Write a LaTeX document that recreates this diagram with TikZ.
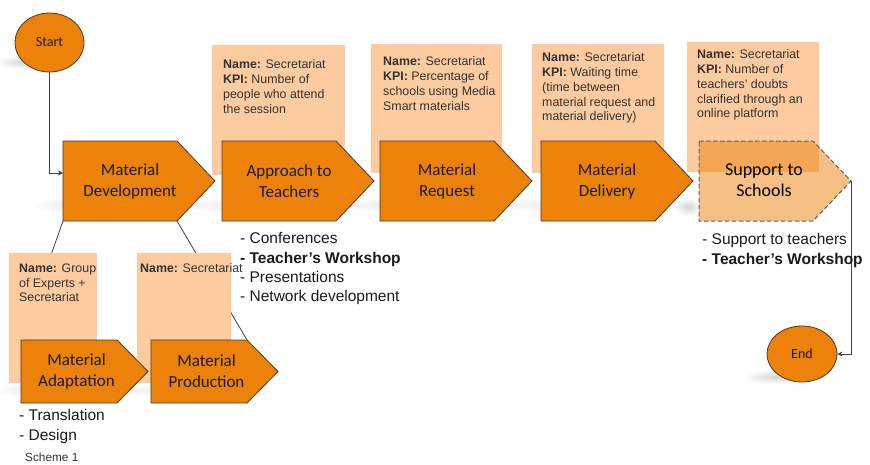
\documentclass[tikz,border=0pt]{standalone}
\usepackage{fontspec}
\setmainfont{Liberation Sans}
\newfontfamily\calibri{Carlito}
\usetikzlibrary{calc,shapes.geometric,arrows.meta,fadings}

\definecolor{stageorange}{HTML}{EC8209}
\definecolor{stageedge}{HTML}{4A3A2A}
\definecolor{kpifill}{HTML}{FCCB9F}
\definecolor{linkgray}{HTML}{404040}
\definecolor{kpitextc}{HTML}{333333}
\definecolor{labeltext}{HTML}{1A1A1A}
\definecolor{dashgray}{HTML}{5E5E5E}

\tikzfading[name=softshadow, inner color=transparent!0, outer color=transparent!100]

% invisible frame of a process step: full width (body + point), height, point depth
\newcommand\stageframe[6]{%
  \node[stagebox, minimum width=#4, minimum height=#5] (#1) at (#2,#3) {};
  \coordinate (#1-ne) at ($(#1.north east)+(-#6,0)$);
  \coordinate (#1-se) at ($(#1.south east)+(-#6,0)$);
}
% arrow-shaped outline of a process step
\newcommand\stageshape[2]{%
  \path[#1] (#2.north west) -- (#2-ne) -- (#2.east) -- (#2-se) -- (#2.south west) -- cycle;
}

\begin{document}
\begin{tikzpicture}[x=1pt,y=-1pt,
  stagebox/.style={rectangle, inner sep=0pt, outer sep=0pt, anchor=north west},
  stagefill/.style={fill=stageorange, draw=stageedge, line width=0.8pt, line join=miter},
  supportfill/.style={fill=stageorange, fill opacity=0.5, draw=dashgray, line width=1pt, dash pattern=on 4.5pt off 2.5pt},
  stagetext/.style={font=\calibri\fontsize{17}{21}\selectfont, align=center, inner sep=0pt, text=labeltext},
  kpibox/.style={rectangle, inner sep=0pt, outer sep=0pt, anchor=north west, fill=kpifill},
  kpitext/.style={anchor=north west, inner sep=0pt, align=left, text=kpitextc, font=\fontsize{12.4}{14.8}\selectfont},
  bullets/.style={anchor=north west, inner sep=0pt, align=left, text=labeltext, font=\fontsize{15.5}{19.3}\selectfont},
  terminal/.style={ellipse, fill=stageorange, draw=stageedge, line width=0.8pt, inner sep=0pt, font=\calibri\fontsize{14}{16}\selectfont, text=labeltext},
  connector/.style={draw=linkgray, line width=0.8pt},
  arrowtip/.style={-{Stealth[length=5pt,width=5pt]}},
  softshade/.style={fill=black, opacity=0.16, path fading=softshadow}
]
\useasboundingbox (0,0) rectangle (870,464);

% frames of the process steps
\stageframe{md}{63}{141}{152}{80}{38}
\stageframe{appr}{222}{141}{152}{80}{38}
\stageframe{req}{380}{141}{152}{80}{38}
\stageframe{del}{541}{141}{152}{80}{38}
\stageframe{sup}{699}{141}{152}{80}{38}
\stageframe{ma}{21}{340}{127}{63}{31}
\stageframe{mp}{151}{340}{127}{63}{31}

% soft cast shadows
\fill[softshade] (25,62) ellipse (30 and 7);
\fill[softshade] (120,205) ellipse (92 and 10);
\fill[softshade] (279,205) ellipse (92 and 10);
\fill[softshade] (437,205) ellipse (92 and 10);
\fill[softshade] (598,205) ellipse (92 and 10);
\fill[softshade] (688,207) ellipse (14 and 9);
\fill[softshade] (70,390) ellipse (75 and 9);
\fill[softshade] (200,390) ellipse (75 and 9);
\fill[softshade] (775,377) ellipse (32 and 7);

% links from development to its sub-steps (behind the cards)
\draw[connector] (md.south west) -- (ma.north west);
\draw[connector] (md-se) -- (mp-ne);

% responsibility / KPI cards
\node[kpibox, minimum width=133, minimum height=130] (k1) at (212,45) {};
\node[kpibox, minimum width=131, minimum height=129] (k2) at (371,44) {};
\node[kpibox, minimum width=132, minimum height=129] (k3) at (532,44) {};
\node[kpibox, minimum width=132, minimum height=130] (k4) at (687,42) {};
\node[kpibox, minimum width=88, minimum height=130] (ka) at (9,253) {};
\node[kpibox, minimum width=94, minimum height=130] (kb) at (137,253) {};

\node[kpitext] (k1-t) at (223,59.5) {\textbf{Name:} Secretariat\\\textbf{KPI:} Number of\\people who attend\\the session};
\node[kpitext] (k2-t) at (383,56.5) {\textbf{Name:} Secretariat\\\textbf{KPI:} Percentage of\\schools using Media\\Smart materials};
\node[kpitext] (k3-t) at (542,52.5) {\textbf{Name:} Secretariat\\\textbf{KPI:} Waiting time\\(time between\\material request and\\material delivery)};
\node[kpitext] (k4-t) at (697,49.5) {\textbf{Name:} Secretariat\\\textbf{KPI:} Number of\\teachers’ doubts\\clarified through an\\online platform};
\node[kpitext] (ka-t) at (19,263.5) {\textbf{Name:} Group\\of Experts +\\Secretariat};
\node[kpitext] (kb-t) at (140,263.5) {\textbf{Name:} Secretariat};

% process steps
\stageshape{stagefill}{md}
\stageshape{stagefill}{appr}
\stageshape{stagefill}{req}
\stageshape{stagefill}{del}
\stageshape{stagefill}{ma}
\stageshape{stagefill}{mp}
\stageshape{supportfill}{sup}

\node[stagetext] (md-t) at ($(md.center)+(-9,0)$) {Material\\Development};
\node[stagetext] (appr-t) at ($(appr.center)+(-9,0)$) {Approach to\\Teachers};
\node[stagetext] (req-t) at ($(req.center)+(-9,0)$) {Material\\Request};
\node[stagetext] (del-t) at ($(del.center)+(-10,0)$) {Material\\Delivery};
\node[stagetext, font=\calibri\fontsize{18}{21}\selectfont, text=black] (sup-t) at ($(sup.center)+(-11,-1)$) {Support to\\Schools};
\node[stagetext] (ma-t) at ($(ma.center)+(-8,0)$) {Material\\Adaptation};
\node[stagetext] (mp-t) at ($(mp.center)+(-8,0)$) {Material\\Production};

% start and end
\node[terminal, minimum width=69, minimum height=59] (start) at (49.5,42.5) {Start};
\node[terminal, minimum width=70, minimum height=56] (end) at (802,354) {End};

\draw[connector, arrowtip] (start.south) |- ($(md.west)+(0,-8)$);
\draw[connector, arrowtip] (sup.east) |- (end.east);

% activity lists
\node[bullets] (appr-list) at (240,232.5) {- Conferences\\\textbf{- Teacher’s Workshop}\\- Presentations\\- Network development};
\node[bullets] (sup-list) at (702,233.5) {- Support to teachers\\\textbf{- Teacher’s Workshop}};
\node[bullets, font=\fontsize{15.5}{20}\selectfont] (ma-list) at (19,409.5) {- Translation\\- Design};

\node[anchor=west, inner sep=0pt, text=kpitextc, font=\fontsize{11.8}{14}\selectfont] (caption) at (25,457) {Scheme 1};
\end{tikzpicture}
\end{document}
